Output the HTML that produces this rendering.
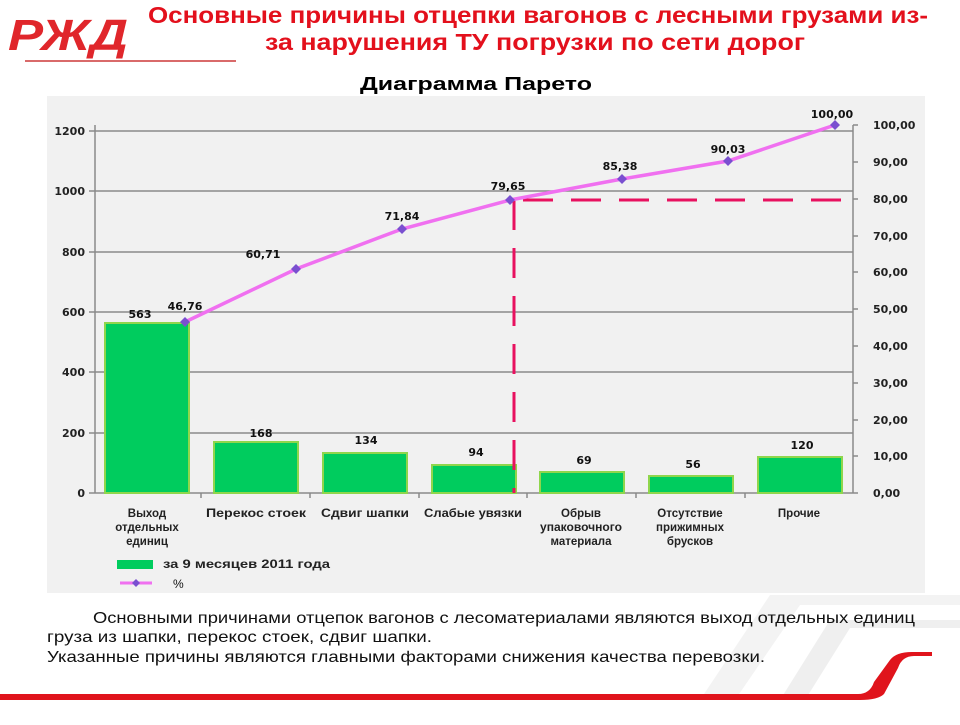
<!DOCTYPE html>
<html><head><meta charset="utf-8"><style>
body{margin:0;width:960px;height:720px;background:#fff;overflow:hidden;font-family:"Liberation Sans","DejaVu Sans",sans-serif}
</style></head><body>
<svg width="960" height="720" viewBox="0 0 960 720" xmlns="http://www.w3.org/2000/svg" font-family="'Liberation Sans',sans-serif">
<!-- background swoosh -->
<path d="M700 700 L770 595 L960 595 L960 605 L800 605 L735 700Z" fill="#f3f3f3"/>
<path d="M780 700 L830 620 L960 620 L960 628 L850 628 L805 700Z" fill="#efefef"/>
<!-- logo -->
<text x="8" y="50" font-weight="bold" font-style="italic" font-size="44" fill="#e0262b" textLength="120" lengthAdjust="spacingAndGlyphs">РЖД</text>
<line x1="25" y1="61" x2="236" y2="61" stroke="#d96a6a" stroke-width="2"/>
<!-- title -->
<g fill="#e3101c" font-weight="bold" font-size="23">
<text x="148" y="23" textLength="780" lengthAdjust="spacingAndGlyphs">Основные причины отцепки вагонов с лесными грузами из-</text>
<text x="265" y="50" textLength="540" lengthAdjust="spacingAndGlyphs">за нарушения ТУ погрузки по сети дорог</text>
</g>
<text x="360" y="90" font-weight="bold" font-size="18" fill="#000" textLength="232" lengthAdjust="spacingAndGlyphs">Диаграмма Парето</text>
<!-- chart panel -->
<rect x="47" y="96" width="878" height="497" fill="#f1f1f1"/>
<g stroke="#8a8a8a" stroke-width="1.5">
<line x1="95" y1="131" x2="853" y2="131"/>
<line x1="95" y1="191" x2="853" y2="191"/>
<line x1="95" y1="252" x2="853" y2="252"/>
<line x1="95" y1="312" x2="853" y2="312"/>
<line x1="95" y1="372" x2="853" y2="372"/>
<line x1="95" y1="433" x2="853" y2="433"/>
<line x1="95" y1="493" x2="853" y2="493"/>
<line x1="95" y1="125" x2="95" y2="493"/>
<line x1="853" y1="125" x2="853" y2="493"/>
</g>
<g stroke="#8a8a8a" stroke-width="1.5">
<line x1="89" y1="131" x2="95" y2="131"/><line x1="89" y1="191" x2="95" y2="191"/><line x1="89" y1="252" x2="95" y2="252"/><line x1="89" y1="312" x2="95" y2="312"/><line x1="89" y1="372" x2="95" y2="372"/><line x1="89" y1="433" x2="95" y2="433"/><line x1="89" y1="493" x2="95" y2="493"/>
<line x1="853" y1="125" x2="858" y2="125"/><line x1="853" y1="162" x2="858" y2="162"/><line x1="853" y1="199" x2="858" y2="199"/><line x1="853" y1="236" x2="858" y2="236"/><line x1="853" y1="272" x2="858" y2="272"/><line x1="853" y1="309" x2="858" y2="309"/><line x1="853" y1="346" x2="858" y2="346"/><line x1="853" y1="383" x2="858" y2="383"/><line x1="853" y1="420" x2="858" y2="420"/><line x1="853" y1="456" x2="858" y2="456"/><line x1="853" y1="493" x2="858" y2="493"/>
<line x1="201" y1="493" x2="201" y2="498"/><line x1="310" y1="493" x2="310" y2="498"/><line x1="419" y1="493" x2="419" y2="498"/><line x1="527" y1="493" x2="527" y2="498"/><line x1="636" y1="493" x2="636" y2="498"/><line x1="745" y1="493" x2="745" y2="498"/>
</g>
<g font-family="'DejaVu Sans',sans-serif" font-weight="bold" font-size="11" fill="#222" text-anchor="end">
<text x="85" y="135">1200</text><text x="85" y="195">1000</text><text x="85" y="256">800</text><text x="85" y="316">600</text><text x="85" y="376">400</text><text x="85" y="437">200</text><text x="85" y="497">0</text>
</g>
<g font-family="'DejaVu Sans',sans-serif" font-weight="bold" font-size="11" fill="#222">
<text x="873" y="129">100,00</text><text x="873" y="166">90,00</text><text x="873" y="203">80,00</text><text x="873" y="240">70,00</text><text x="873" y="276">60,00</text><text x="873" y="313">50,00</text><text x="873" y="350">40,00</text><text x="873" y="387">30,00</text><text x="873" y="424">20,00</text><text x="873" y="460">10,00</text><text x="873" y="497">0,00</text>
</g>
<!-- bars -->
<g fill="#00cc5e" stroke="#8fd64c" stroke-width="2">
<rect x="105" y="323" width="84" height="170"/>
<rect x="214" y="442" width="84" height="51"/>
<rect x="323" y="453" width="84" height="40"/>
<rect x="432" y="465" width="84" height="28"/>
<rect x="540" y="472" width="84" height="21"/>
<rect x="649" y="476" width="84" height="17"/>
<rect x="758" y="457" width="84" height="36"/>
</g>
<g font-family="'DejaVu Sans',sans-serif" font-weight="bold" font-size="11" fill="#111" text-anchor="middle">
<text x="140" y="318">563</text><text x="261" y="437">168</text><text x="366" y="444">134</text><text x="476" y="456">94</text><text x="584" y="464">69</text><text x="693" y="468">56</text><text x="802" y="449">120</text>
</g>
<!-- dashed -->
<g stroke="#e8115f" stroke-width="3" stroke-dasharray="30,18" fill="none">
<line x1="514" y1="200" x2="514" y2="493"/>
<line x1="523" y1="200" x2="853" y2="200"/>
</g>
<!-- line -->
<polyline points="185,322 296,269 402,229 510,200 622,179 728,161 835,125" fill="none" stroke="#f070f0" stroke-width="3.5"/>
<g fill="#7a4fd0">
<path d="M185 317l5 5-5 5-5-5z"/><path d="M296 264l5 5-5 5-5-5z"/><path d="M402 224l5 5-5 5-5-5z"/><path d="M510 195l5 5-5 5-5-5z"/><path d="M622 174l5 5-5 5-5-5z"/><path d="M728 156l5 5-5 5-5-5z"/><path d="M835 120l5 5-5 5-5-5z"/>
</g>
<g font-family="'DejaVu Sans',sans-serif" font-weight="bold" font-size="11" fill="#111" text-anchor="middle">
<text x="185" y="310">46,76</text><text x="263" y="258">60,71</text><text x="402" y="220">71,84</text><text x="508" y="190">79,65</text><text x="620" y="170">85,38</text><text x="728" y="153">90,03</text><text x="832" y="118">100,00</text>
</g>
<!-- category labels -->
<g font-size="11.5" font-weight="bold" fill="#222" text-anchor="middle">
<text x="147" y="517">Выход</text><text x="147" y="531">отдельных</text><text x="147" y="545">единиц</text>
<text x="256" y="517" textLength="100" lengthAdjust="spacingAndGlyphs">Перекос стоек</text>
<text x="365" y="517" textLength="88" lengthAdjust="spacingAndGlyphs">Сдвиг шапки</text>
<text x="473" y="517" textLength="98" lengthAdjust="spacingAndGlyphs">Слабые увязки</text>
<text x="581" y="517">Обрыв</text><text x="581" y="531" textLength="82" lengthAdjust="spacingAndGlyphs">упаковочного</text><text x="581" y="545">материала</text>
<text x="690" y="517">Отсутствие</text><text x="690" y="531">прижимных</text><text x="690" y="545">брусков</text>
<text x="799" y="517">Прочие</text>
</g>
<!-- legend -->
<rect x="117" y="560" width="36" height="9" fill="#00cc5e"/>
<text x="163" y="568" font-size="11.5" font-weight="bold" fill="#222" textLength="167" lengthAdjust="spacingAndGlyphs">за 9 месяцев 2011 года</text>
<line x1="120" y1="583" x2="152" y2="583" stroke="#f070f0" stroke-width="3"/>
<path d="M136 579l4 4-4 4-4-4z" fill="#7a4fd0"/>
<text x="173" y="588" font-size="12" fill="#111">%</text>
<!-- body text -->
<g font-size="16" fill="#111">
<text x="93" y="623" textLength="822" lengthAdjust="spacingAndGlyphs">Основными причинами отцепок вагонов с лесоматериалами являются выход отдельных единиц</text>
<text x="47" y="642" textLength="385" lengthAdjust="spacingAndGlyphs">груза из шапки, перекос стоек, сдвиг шапки.</text>
<text x="47" y="662" textLength="718" lengthAdjust="spacingAndGlyphs">Указанные причины являются главными факторами снижения качества перевозки.</text>
</g>
<!-- red swoosh -->
<path d="M0 694 L858 694 Q870 694 874 682 L890 660 Q896 652 912 652 L932 652 L932 656 L914 656 Q902 656 898 668 L884 694 Q878 700 860 700 L0 700Z" fill="#e0141c"/>
</svg>
</body></html>
